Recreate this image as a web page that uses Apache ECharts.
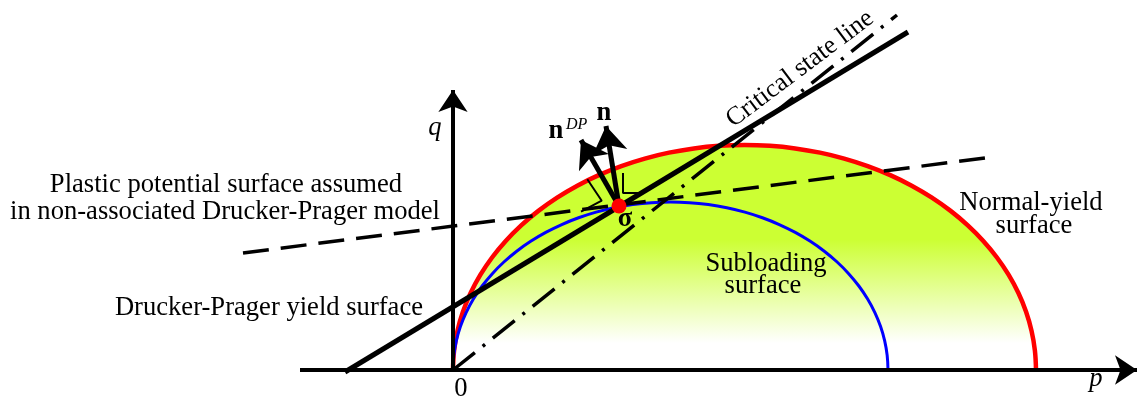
<!DOCTYPE html>
<html><head><meta charset="utf-8">
<script src="https://cdn.jsdelivr.net/npm/echarts@6/dist/echarts.min.js"></script>
<style>html,body{margin:0;padding:0;background:#fff}#c{width:1137px;height:404px}</style>
</head><body><div id="c"></div>
<script>
// p, q values (schematic units)
const normalYieldP = [0, 0.0111, 0.0443, 0.0993, 0.1758, 0.2731, 0.3906, 0.5272, 0.6821, 0.8538, 1.0413, 1.2430, 1.4575, 1.6831, 1.918, 2.1605, 2.409, 2.6609, 2.915, 3.1691, 3.421, 3.6695, 3.912, 4.1469, 4.3725, 4.5870, 4.7887, 4.9762, 5.1479, 5.3028, 5.4394, 5.5569, 5.6542, 5.7307, 5.7857, 5.8189, 5.83];
const normalYieldQ = [0, 0.1961, 0.3906, 0.5823, 0.7695, 0.9509, 1.125, 1.2906, 1.4463, 1.5910, 1.7235, 1.8431, 1.9485, 2.0392, 2.1143, 2.1733, 2.2158, 2.2414, 2.25, 2.2414, 2.2158, 2.1733, 2.1143, 2.0392, 1.9485, 1.8431, 1.7235, 1.5910, 1.4463, 1.2906, 1.125, 0.9509, 0.7695, 0.5823, 0.3906, 0.1961, 0];
const subloadingP = [0, 0.0083, 0.0331, 0.0741, 0.1312, 0.2038, 0.2914, 0.3933, 0.5089, 0.6370, 0.7769, 0.9275, 1.0875, 1.2558, 1.4311, 1.6121, 1.7974, 1.9854, 2.175, 2.3646, 2.5526, 2.7379, 2.9189, 3.0942, 3.2625, 3.4225, 3.5731, 3.7130, 3.8411, 3.9567, 4.0586, 4.1462, 4.2188, 4.2759, 4.3169, 4.3417, 4.35];
const subloadingQ = [0, 0.1464, 0.2916, 0.4348, 0.5746, 0.7100, 0.84, 0.9636, 1.0799, 1.1879, 1.2869, 1.3762, 1.4549, 1.5226, 1.5787, 1.6228, 1.6545, 1.6736, 1.68, 1.6736, 1.6545, 1.6228, 1.5787, 1.5226, 1.4549, 1.3762, 1.2869, 1.1879, 1.0799, 0.9636, 0.84, 0.7100, 0.5746, 0.4348, 0.2916, 0.1464, 0];
const druckerPragerLine = [[-1.08, -0.02], [4.55, 3.38]];
const criticalStateLine = [[0, 0], [4.44, 3.55]];
const plasticPotentialLine = [[-2.10, 1.17], [5.32, 2.12]];
const stressPoint = [1.66, 1.64];
const normalTip = [1.53, 2.44];
const normalDPTip = [1.28, 2.30];
const pAxisLine = [[-1.53, 0], [6.84, 0]];
const qAxisLine = [[0, 0], [0, 2.80]];
const rightAngleN = [[1.70, 1.97], [1.70, 1.77], [1.88, 1.77]];
const rightAngleDP = [[1.343, 1.907], [1.487, 1.693], [1.28, 1.583]];

const zip = (a, b) => a.map((v, i) => [v, b[i]]);
const F = '"Liberation Serif", "Times New Roman", serif';
const chart = echarts.init(document.getElementById('c'), null, {renderer: 'canvas'});

function seg(name, data, width, type, z) {
  return {name, type: 'line', data, showSymbol: false, symbol: 'none', silent: true, z: z || 3,
    lineStyle: {color: '#000', width, type: type || 'solid', cap: 'butt'}};
}
function arrow(name, from, to, width, size, z) {
  return {name, type: 'lines', coordinateSystem: 'cartesian2d', silent: true, z: z || 5,
    symbol: ['none', 'arrow'], symbolSize: size,
    lineStyle: {color: '#000', width, opacity: 1, curveness: 0},
    data: [{coords: [from, to]}]};
}
function txt(text, x, y, size, opts) {
  opts = opts || {};
  return {type: 'text', x, y, rotation: opts.rot || 0, z: 100, silent: true,
    style: {text, x: 0, y: 0, fill: '#000',
      font: (opts.style || 'normal') + ' ' + (opts.weight || 'normal') + ' ' + size + 'px ' + F,
      align: opts.align || 'center', verticalAlign: 'middle',
      textAlign: opts.align || 'center', textVerticalAlign: 'middle'}};
}

chart.setOption({
  animation: false,
  backgroundColor: '#fff',
  grid: {left: 0, right: 0, top: 0, bottom: 0},
  xAxis: {type: 'value', min: -4.53, max: 6.84, show: false},
  yAxis: {type: 'value', min: -0.34, max: 3.70, show: false},
  series: [
    {name: 'Normal-yield surface', type: 'line', data: zip(normalYieldP, normalYieldQ), smooth: 0.4,
      showSymbol: false, symbol: 'none', silent: true, z: 1,
      lineStyle: {color: '#ff0000', width: 4.5},
      areaStyle: {opacity: 1, color: new echarts.graphic.LinearGradient(0, 0, 0, 1, [
        {offset: 0, color: '#ccff33'}, {offset: 0.42, color: '#ccff33'}, {offset: 0.88, color: '#ffffff'}])}},
    {name: 'Subloading surface', type: 'line', data: zip(subloadingP, subloadingQ), smooth: 0.4,
      showSymbol: false, symbol: 'none', silent: true, z: 2,
      lineStyle: {color: '#0000ff', width: 3}},
    seg('Critical state line', criticalStateLine, 3.5, [28, 10, 3, 10], 3),
    seg('Plastic potential', plasticPotentialLine, 3.5, [26, 12], 3),
    seg('Drucker-Prager', druckerPragerLine, 5, 'solid', 4),
    seg('right angle n', rightAngleN, 2, 'solid', 4),
    seg('right angle nDP', rightAngleDP, 2, 'solid', 4),
    arrow('p axis', pAxisLine[0], pAxisLine[1], 4, [14, 22], 6),
    arrow('q axis', qAxisLine[0], qAxisLine[1], 4, [14, 22], 6),
    arrow('n', stressPoint, normalTip, 5, [16, 26], 7),
    arrow('nDP', stressPoint, normalDPTip, 5, [16, 26], 7),
    {name: 'sigma', type: 'scatter', data: [stressPoint], symbolSize: 15, silent: true, z: 10,
      itemStyle: {color: '#ff0000', opacity: 1}}
  ],
  graphic: [
    txt('Plastic potential surface assumed', 226, 185, 26.6),
    txt('in non-associated Drucker-Prager model', 225, 212, 26.6),
    txt('Drucker-Prager yield surface', 423, 308, 26.6, {align: 'right'}),
    txt('Subloading', 766, 264, 26.6),
    txt('surface', 763, 286, 26.6),
    txt('Normal-yield', 1031, 203, 26.6),
    txt('surface', 1034, 226, 26.6),
    txt('Critical state line', 800, 69, 26, {rot: 0.645}),
    txt('0', 461, 389, 26.6),
    txt('p', 1096, 379, 26.6, {style: 'italic'}),
    txt('q', 435, 128, 26.6, {style: 'italic'}),
    txt('σ', 625, 219, 26.6, {weight: 'bold'}),
    txt('n', 604, 113, 26.6, {weight: 'bold'}),
    txt('n', 556, 131, 26.6, {weight: 'bold'}),
    txt('DP', 566, 125, 16, {style: 'italic', align: 'left'})
  ]
});
</script></body></html>
